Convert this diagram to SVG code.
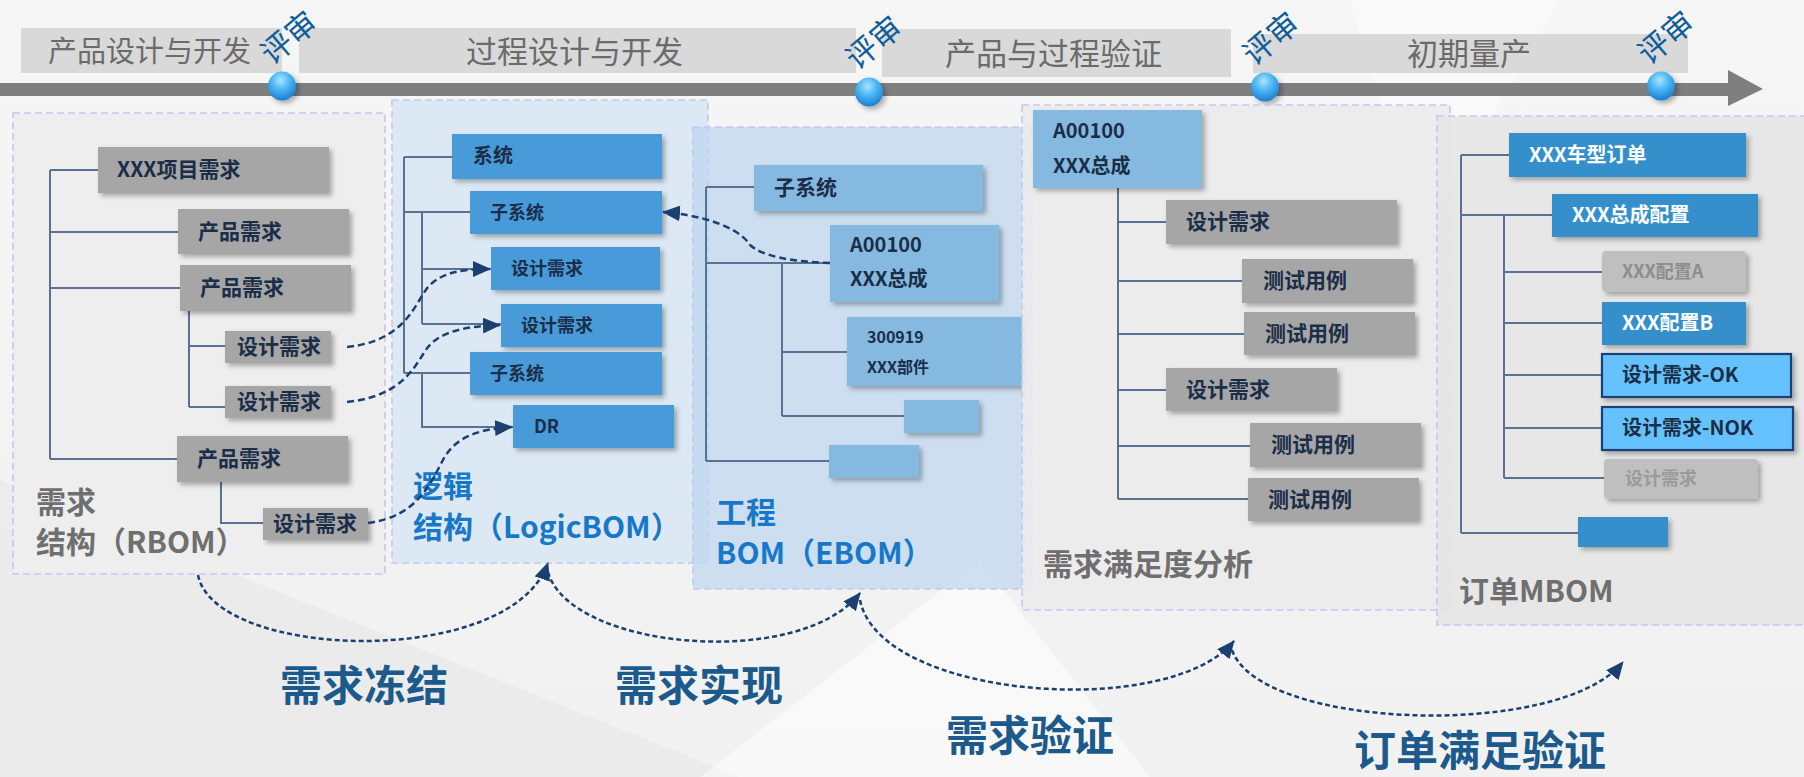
<svg xmlns="http://www.w3.org/2000/svg" width="1804" height="777" viewBox="0 0 1804 777">
<defs>
  <style>
    .cjk{font-family:"Noto Sans CJK SC","Liberation Sans",sans-serif}
    .phase{fill:#d9d9d9}
    .phaseT{font-size:31px;fill:#6b6b6b}
    .review{font-size:31px;fill:#0f5d99}
    .cont{stroke:#c6c6f2;stroke-width:1.6;stroke-dasharray:7 4}
    .tree{fill:none;stroke:#5a7193;stroke-width:2}
    .gray{fill:#a6a6a6}
    .blue1{fill:#4a9ad9}
    .blue2{fill:#85b9e0}
    .blue3{fill:#368fcb}
    .lt{fill:#bfbfbf}
    .ok{fill:#66c2ff;stroke:#1b3f73;stroke-width:2.2}
    .nt{font-weight:700;fill:#1b2e48}
    .wt{font-weight:700;fill:#ffffff}
    .gt{font-weight:700;fill:#8e8e8e}
    .lbG{font-size:30px;font-weight:700;fill:#6f6f6f}
    .lbB{font-size:30px;font-weight:700;fill:#1878c8}
    .big{font-size:42px;font-weight:700;fill:#1d5a8c}
    .dash{fill:none;stroke:#1c3f72;stroke-width:2.5;stroke-dasharray:7 4}
    .arc{fill:none;stroke:#1c3f72;stroke-width:2.5;stroke-dasharray:5 3}
  </style>
  <filter id="sh" x="-10%" y="-20%" width="130%" height="160%">
    <feDropShadow dx="3" dy="3" stdDeviation="2.5" flood-color="#000" flood-opacity="0.3"/>
  </filter>
  <radialGradient id="ball" cx="45%" cy="30%" r="70%">
    <stop offset="0" stop-color="#a8e6ff"/>
    <stop offset="0.45" stop-color="#4fb8f5"/>
    <stop offset="1" stop-color="#1a7fd0"/>
  </radialGradient>
  <linearGradient id="bg" x1="0" y1="0" x2="0" y2="1">
    <stop offset="0" stop-color="#f6f6f6"/>
    <stop offset="1" stop-color="#f1f1f1"/>
  </linearGradient>
  <marker id="ah" markerUnits="userSpaceOnUse" markerWidth="18" markerHeight="16" refX="17" refY="8" orient="auto">
    <path d="M0,0 L18,8 L0,16 Z" fill="#1c3f72"/>
  </marker>
</defs>

<!-- background -->
<rect x="0" y="0" width="1804" height="777" fill="url(#bg)"/>
<polygon points="0,480 740,777 0,777" fill="#e8e8e8" opacity="0.7"/>
<polygon points="700,777 980,560 1150,777" fill="#ffffff" opacity="0.5"/>
<polygon points="1350,0 1560,0 1420,240" fill="#ffffff" opacity="0.4"/>

<!-- timeline -->
<g id="timeline">
  <rect class="phase" x="21" y="28" width="261" height="45"/>
  <rect class="phase" x="299" y="28" width="557" height="45"/>
  <rect class="phase" x="882" y="29" width="349" height="48"/>
  <rect class="phase" x="1253" y="34" width="435" height="39"/>
  <text class="cjk phaseT" x="48" y="62" style="font-size:29px">产品设计与开发</text>
  <text class="cjk phaseT" x="466" y="63">过程设计与开发</text>
  <text class="cjk phaseT" x="945" y="65">产品与过程验证</text>
  <text class="cjk phaseT" x="1407" y="65">初期量产</text>
  <rect x="0" y="83" width="1730" height="13" fill="#7f7f7f"/>
  <polygon points="1728,70 1763,89 1728,106" fill="#7f7f7f"/>
  <g filter="url(#sh)">
    <ellipse cx="282" cy="86" rx="14" ry="14.5" fill="url(#ball)"/>
    <ellipse cx="869" cy="92" rx="14" ry="14.5" fill="url(#ball)"/>
    <ellipse cx="1265" cy="87" rx="14" ry="14.5" fill="url(#ball)"/>
    <ellipse cx="1661" cy="86" rx="14" ry="14.5" fill="url(#ball)"/>
  </g>
  <text class="cjk review" text-anchor="middle" transform="translate(296,46) rotate(-40)">评审</text>
  <text class="cjk review" text-anchor="middle" transform="translate(881,51) rotate(-40)">评审</text>
  <text class="cjk review" text-anchor="middle" transform="translate(1278,47) rotate(-40)">评审</text>
  <text class="cjk review" text-anchor="middle" transform="translate(1673,46) rotate(-40)">评审</text>
</g>

<!-- RBOM -->
<g id="rbom">
  <rect class="cont" x="13" y="113" width="372" height="461" fill="#eeeeee"/>
  <path class="tree" d="M50,170 V459 M50,170 H98 M50,232 H178 M50,288 H180 M50,459 H177 M189,311 V407 M189,346 H225 M189,407 H225 M190,481 H221 V523 H263"/>
  <g id="r1"><rect class="gray" filter="url(#sh)" x="98" y="147" width="231" height="46"/><text class="cjk nt" x="117" y="177" font-size="21">XXX项目需求</text></g>
  <g id="r2"><rect class="gray" filter="url(#sh)" x="178" y="209" width="171" height="45"/><text class="cjk nt" x="198" y="239" font-size="21">产品需求</text></g>
  <g id="r3"><rect class="gray" filter="url(#sh)" x="180" y="265" width="171" height="46"/><text class="cjk nt" x="200" y="295" font-size="21">产品需求</text></g>
  <g id="r4"><rect class="gray" filter="url(#sh)" x="225" y="331" width="106" height="32"/><text class="cjk nt" x="237" y="354" font-size="21">设计需求</text></g>
  <g id="r5"><rect class="gray" filter="url(#sh)" x="225" y="386" width="106" height="32"/><text class="cjk nt" x="237" y="409" font-size="21">设计需求</text></g>
  <g id="r6"><rect class="gray" filter="url(#sh)" x="177" y="436" width="171" height="46"/><text class="cjk nt" x="197" y="466" font-size="21">产品需求</text></g>
  <g id="r7"><rect class="gray" filter="url(#sh)" x="263" y="508" width="105" height="32"/><text class="cjk nt" x="273" y="531" font-size="21">设计需求</text></g>
  <text class="cjk lbG" x="36" y="513">需求</text>
  <text class="cjk lbG" x="36" y="553">结构（RBOM）</text>
</g>

<!-- LogicBOM -->
<g id="logicbom">
  <rect class="cont" x="392" y="100" width="316" height="463" fill="#dce9f5"/>
  <path class="tree" d="M404,157 V373 M404,157 H452 M404,212 H470 M404,373 H470 M422,212 V324 M422,269 H491 M422,324 H501 M422,373 V427 H513"/>
  <g id="l1"><rect class="blue1" filter="url(#sh)" x="452" y="134" width="210" height="45"/><text class="cjk nt" x="473" y="163" font-size="20">系统</text></g>
  <g id="l2"><rect class="blue1" filter="url(#sh)" x="470" y="191" width="192" height="43"/><text class="cjk nt" x="490" y="219" font-size="18">子系统</text></g>
  <g id="l3"><rect class="blue1" filter="url(#sh)" x="491" y="247" width="169" height="43"/><text class="cjk nt" x="511" y="275" font-size="18">设计需求</text></g>
  <g id="l4"><rect class="blue1" filter="url(#sh)" x="501" y="304" width="161" height="43"/><text class="cjk nt" x="521" y="332" font-size="18">设计需求</text></g>
  <g id="l5"><rect class="blue1" filter="url(#sh)" x="470" y="352" width="192" height="43"/><text class="cjk nt" x="490" y="380" font-size="18">子系统</text></g>
  <g id="l6"><rect class="blue1" filter="url(#sh)" x="513" y="405" width="161" height="43"/><text class="cjk nt" x="534" y="433" font-size="18">DR</text></g>
  <text class="cjk lbB" x="413" y="497">逻辑</text>
  <text class="cjk lbB" x="413" y="538">结构（LogicBOM）</text>
</g>

<!-- EBOM -->
<g id="ebom">
  <rect class="cont" x="693" y="127" width="339" height="462" fill="#bcd6ee" fill-opacity="0.72"/>
  <path class="tree" d="M706,187 V461 M706,187 H754 M706,263 H830 M706,461 H829 M782,263 V416 M782,352 H847 M782,416 H904"/>
  <g id="e1"><rect class="blue2" filter="url(#sh)" x="754" y="165" width="229" height="46"/><text class="cjk nt" x="774" y="195" font-size="21">子系统</text></g>
  <g id="e2"><rect class="blue2" filter="url(#sh)" x="830" y="225" width="169" height="77"/><text class="cjk nt" x="850" y="252" font-size="20">A00100</text><text class="cjk nt" x="850" y="286" font-size="20">XXX总成</text></g>
  <g id="e3"><rect class="blue2" filter="url(#sh)" x="847" y="317" width="175" height="69"/><text class="cjk nt" x="867" y="343" font-size="16">300919</text><text class="cjk nt" x="867" y="373" font-size="16">XXX部件</text></g>
  <g id="e4"><rect class="blue2" filter="url(#sh)" x="904" y="400" width="75" height="33"/></g>
  <g id="e5"><rect class="blue2" filter="url(#sh)" x="829" y="445" width="90" height="33"/></g>
  <text class="cjk lbB" x="716" y="523">工程</text>
  <text class="cjk lbB" x="716" y="564">BOM（EBOM）</text>
</g>

<!-- Requirement satisfaction analysis -->
<g id="analysis">
  <rect class="cont" x="1022" y="105" width="428" height="505" fill="#ebebeb" fill-opacity="0.9"/>
  <path class="tree" d="M1118,188 V499 M1118,222 H1166 M1118,281 H1242 M1118,334 H1244 M1118,390 H1166 M1118,446 H1250 M1118,499 H1248"/>
  <g id="a1"><rect class="blue2" filter="url(#sh)" x="1033" y="110" width="169" height="78"/><text class="cjk nt" x="1053" y="138" font-size="20">A00100</text><text class="cjk nt" x="1053" y="173" font-size="20">XXX总成</text></g>
  <g id="a2"><rect class="gray" filter="url(#sh)" x="1166" y="200" width="231" height="44"/><text class="cjk nt" x="1186" y="229" font-size="21">设计需求</text></g>
  <g id="a3"><rect class="gray" filter="url(#sh)" x="1242" y="259" width="171" height="44"/><text class="cjk nt" x="1263" y="288" font-size="21">测试用例</text></g>
  <g id="a4"><rect class="gray" filter="url(#sh)" x="1244" y="312" width="171" height="43"/><text class="cjk nt" x="1265" y="341" font-size="21">测试用例</text></g>
  <g id="a5"><rect class="gray" filter="url(#sh)" x="1166" y="368" width="171" height="43"/><text class="cjk nt" x="1186" y="397" font-size="21">设计需求</text></g>
  <g id="a6"><rect class="gray" filter="url(#sh)" x="1250" y="423" width="171" height="44"/><text class="cjk nt" x="1271" y="452" font-size="21">测试用例</text></g>
  <g id="a7"><rect class="gray" filter="url(#sh)" x="1248" y="478" width="171" height="43"/><text class="cjk nt" x="1268" y="507" font-size="21">测试用例</text></g>
  <text class="cjk lbG" x="1043" y="575">需求满足度分析</text>
</g>

<!-- MBOM -->
<g id="mbom">
  <rect class="cont" x="1437" y="116" width="368" height="509" fill="#e6e6e6" fill-opacity="0.9"/>
  <path class="tree" d="M1461,155 V533 M1461,155 H1509 M1461,215 H1552 M1461,533 H1578 M1504,215 V478 M1504,272 H1602 M1504,323 H1602 M1504,375 H1602 M1504,428 H1602 M1504,478 H1604"/>
  <g id="m1"><rect class="blue3" filter="url(#sh)" x="1509" y="133" width="237" height="44"/><text class="cjk wt" x="1529" y="162" font-size="20">XXX车型订单</text></g>
  <g id="m2"><rect class="blue3" filter="url(#sh)" x="1552" y="194" width="206" height="43"/><text class="cjk wt" x="1572" y="222" font-size="20">XXX总成配置</text></g>
  <g id="m3"><rect class="lt" filter="url(#sh)" x="1602" y="251" width="144" height="41" rx="4"/><text class="cjk gt" x="1622" y="278" font-size="18">XXX配置A</text></g>
  <g id="m4"><rect class="blue3" filter="url(#sh)" x="1602" y="302" width="144" height="43"/><text class="cjk wt" x="1622" y="330" font-size="20">XXX配置B</text></g>
  <g id="m5"><rect class="ok" filter="url(#sh)" x="1602" y="354" width="189" height="43"/><text class="cjk nt" x="1622" y="382" font-size="20">设计需求-OK</text></g>
  <g id="m6"><rect class="ok" filter="url(#sh)" x="1602" y="407" width="191" height="43"/><text class="cjk nt" x="1622" y="435" font-size="20">设计需求-NOK</text></g>
  <g id="m7"><rect class="lt" filter="url(#sh)" x="1604" y="459" width="154" height="40" rx="4"/><text class="cjk gt" x="1625" y="485" font-size="18" style="fill:#9a9a9a">设计需求</text></g>
  <g id="m8"><rect class="blue3" filter="url(#sh)" x="1578" y="517" width="90" height="30"/></g>
  <text class="cjk lbG" x="1459" y="602">订单MBOM</text>
</g>

<!-- connectors -->
<g id="connectors">
  <path class="dash" marker-end="url(#ah)" d="M347,347 C405,341 414,305 428,287 C442,272 462,269 490,269"/>
  <path class="dash" marker-end="url(#ah)" d="M347,402 C405,396 416,363 428,347 C441,331 468,326 500,325"/>
  <path class="dash" marker-end="url(#ah)" d="M368,523 C418,516 430,484 444,458 C457,436 480,429 512,427"/>
  <path class="dash" marker-end="url(#ah)" d="M830,263 C792,262 762,256 750,245 C738,226 700,215 663,212"/>
  <path class="arc" marker-end="url(#ah)" d="M198,575 C215,660 510,670 548,563"/>
  <path class="arc" marker-end="url(#ah)" d="M548,572 C570,650 800,670 860,593"/>
  <path class="arc" marker-end="url(#ah)" d="M860,600 C880,700 1170,720 1234,641"/>
  <path class="arc" marker-end="url(#ah)" d="M1232,650 C1260,730 1560,740 1623,662"/>
</g>

<!-- stage labels -->
<g id="stages">
  <text class="cjk big" x="280" y="701">需求冻结</text>
  <text class="cjk big" x="615" y="701">需求实现</text>
  <text class="cjk big" x="946" y="751">需求验证</text>
  <text class="cjk big" x="1354" y="766">订单满足验证</text>
</g>
</svg>
